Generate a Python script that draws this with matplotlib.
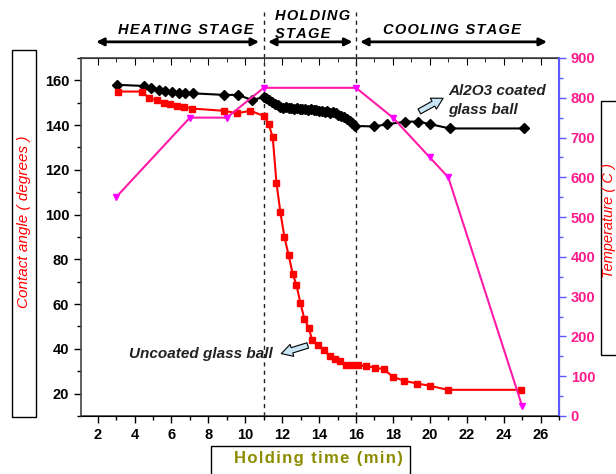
import matplotlib.pyplot as plt
from matplotlib.patches import Rectangle
from matplotlib.ticker import MultipleLocator

plt.rcParams['font.family'] = ['Liberation Sans', 'DejaVu Sans']

# Al2O3 coated glass ball - contact angle
t_coated = [3.05, 4.5, 4.9, 5.3, 5.67, 6.03, 6.4, 6.75, 7.17, 8.83, 9.6, 10.37,
            11.0, 11.15, 11.3, 11.45, 11.6, 11.75, 11.9, 12.05, 12.2, 12.35, 12.5,
            12.65, 12.8, 12.95, 13.1, 13.25, 13.4, 13.55, 13.7, 13.85, 14.0, 14.15,
            14.3, 14.45, 14.6, 14.75, 14.9, 15.05, 15.2, 15.35, 15.5, 15.65, 15.8,
            15.95, 17.0, 17.7, 18.68, 19.37, 20.03, 21.08, 25.1]
ca_coated = [158, 157.5, 156.6, 155.6, 155.2, 154.8, 154.5, 154.2, 154.2, 153.5, 153.5, 151.2,
             152.5, 152.0, 151.0, 150.2, 149.5, 149.0, 148.3, 147.8, 147.9, 147.5, 147.8,
             147.3, 147.6, 147.0, 147.2, 147.4, 146.8, 147.0, 146.6, 146.8, 146.3, 146.5,
             146.0, 146.2, 145.6, 145.8, 145.2, 144.6, 144.0, 143.4, 142.6, 141.8, 140.8,
             139.6, 139.4, 140.4, 141.5, 141.6, 140.4, 138.5, 138.5]

# uncoated glass ball - contact angle
t_uncoated = [3.1, 4.4, 4.8, 5.2, 5.58, 5.94, 6.3, 6.66, 7.1, 8.83, 9.55, 10.28, 11.0,
              11.27, 11.49, 11.69, 11.9, 12.12, 12.35, 12.57, 12.77, 12.99, 13.2, 13.44,
              13.62, 13.92, 14.25, 14.57, 14.88, 15.15, 15.48, 15.79, 16.09, 16.56, 17.05,
              17.5, 18.01, 18.62, 19.31, 20.0, 20.97, 24.95]
ca_uncoated = [155, 155, 152, 151.1, 150, 149.6, 148.6, 148.3, 147.4, 146.4, 145.3, 146.4, 144.1,
               140.4, 134.5, 114.2, 101.2, 90, 81.9, 73.5, 68.6, 60.4, 53.5, 49.3,
               44.1, 41.9, 39.7, 36.7, 35.6, 34.5, 33, 32.6, 32.6, 32.3, 31.6,
               30.9, 27.5, 25.7, 24.5, 23.5, 21.7, 21.7]

# temperature
t_temp = [3, 7, 9, 11, 16, 18, 20, 21, 25]
temp = [550, 750, 750, 825, 825, 750, 650, 600, 25]


def spaced(s):
    # hair space between letters to mimic the wide tracking of the original
    return '\u200a'.join(s)


fig = plt.figure(figsize=(6.16, 4.74), dpi=100)
ax = fig.add_axes([0.1315, 0.1224, 0.776, 0.7553])
ax2 = ax.twinx()

ax.plot(t_coated, ca_coated, color='black', marker='D', markersize=5, linewidth=1.5, zorder=3)
ax.plot(t_uncoated, ca_uncoated, color='red', marker='s', markersize=5, linewidth=1.5, zorder=3)
ax2.plot(t_temp, temp, color='#ff1aa8', marker='v', markersize=5, markerfacecolor='#ff00ff',
         markeredgecolor='#ff00ff', linewidth=1.5)

ax.set_xlim(1.1, 27)
ax.set_ylim(10, 170)
ax2.set_ylim(0, 900)

ax.xaxis.set_major_locator(MultipleLocator(2))
ax.xaxis.set_minor_locator(MultipleLocator(1))
ax.yaxis.set_major_locator(MultipleLocator(20))
ax.yaxis.set_minor_locator(MultipleLocator(10))
ax2.yaxis.set_major_locator(MultipleLocator(100))
ax2.yaxis.set_minor_locator(MultipleLocator(50))

ax.tick_params(which='major', length=5, width=1, labelsize=10.5)
ax.tick_params(which='minor', length=3, width=1)
for lab in ax.get_xticklabels() + ax.get_yticklabels():
    lab.set_fontweight('bold')

ax2.spines['right'].set_color('#5a5aff')
ax2.spines['right'].set_linewidth(1.5)
ax2.tick_params(axis='y', which='both', colors='#5a5aff', width=1)
ax2.tick_params(axis='y', which='major', length=5, labelcolor='#ff1a8c', labelsize=10.5)
ax2.tick_params(axis='y', which='minor', length=3)
for lab in ax2.get_yticklabels():
    lab.set_fontweight('bold')

for sp in ['left', 'bottom', 'top']:
    ax.spines[sp].set_color('#444444')
    ax.spines[sp].set_linewidth(1.2)
ax2.spines['left'].set_visible(False)
ax2.spines['top'].set_visible(False)

top = ax.secondary_xaxis('top')
top.xaxis.set_major_locator(MultipleLocator(2))
top.xaxis.set_minor_locator(MultipleLocator(1))
top.tick_params(which='both', direction='in', labeltop=False)
top.tick_params(which='major', length=5)
top.tick_params(which='minor', length=3)

# stage separators
for xv in [11, 16]:
    ax.plot([xv, xv], [0, 1.128], transform=ax.get_xaxis_transform(), color='#222222',
            linestyle=(0, (3, 3)), linewidth=1, clip_on=False)

# stage arrows and labels
stages = [(1.77, 10.9), (11.08, 15.96), (16.07, 26.5)]
for x0, x1 in stages:
    ax.annotate('', xy=(x0, 1.045), xytext=(x1, 1.045), xycoords=ax.get_xaxis_transform(),
                textcoords=ax.get_xaxis_transform(),
                arrowprops=dict(arrowstyle='<|-|>', color='black', lw=2, mutation_scale=11),
                annotation_clip=False)
stage_font = dict(fontsize=10.5, fontstyle='italic', fontweight='bold')
ax.text(6.8, 1.078, spaced('HEATING STAGE'), transform=ax.get_xaxis_transform(),
        ha='center', va='center', **stage_font)
ax.text(11.6, 1.093, spaced('HOLDING') + '\n' + spaced('STAGE'), transform=ax.get_xaxis_transform(),
        ha='left', va='center', linespacing=1.35, **stage_font)
ax.text(21.2, 1.078, spaced('COOLING STAGE'), transform=ax.get_xaxis_transform(),
        ha='center', va='center', **stage_font)

# series annotations
arrow_style = 'simple,head_length=0.8,head_width=0.9,tail_width=0.4'
ax.annotate('', xy=(20.85, 152.6), xytext=(19.3, 145.5),
            arrowprops=dict(arrowstyle=arrow_style, facecolor='#c8e6f5', edgecolor='black', lw=0.8))
ax.text(21.0, 150.8, 'Al2O3 coated\nglass ball', fontsize=11, fontstyle='italic',
        fontweight='bold', color='#222222', va='center', ha='left', linespacing=1.45)
ax.annotate('', xy=(11.81, 37.5), xytext=(13.53, 41.9),
            arrowprops=dict(arrowstyle=arrow_style, facecolor='#c8e6f5', edgecolor='black', lw=0.8))
ax.text(11.5, 37.5, 'Uncoated glass ball', fontsize=11, fontstyle='italic',
        fontweight='bold', color='#222222', va='center', ha='right')

# axis title boxes
W, H = 616, 474
fig.patches.append(Rectangle((12 / W, 1 - 417 / H), 24 / W, 367 / H, transform=fig.transFigure,
                             facecolor='white', edgecolor='black', lw=1))
fig.text(24 / W, 1 - 222 / H, 'Contact angle ( degrees )', rotation=90, ha='center', va='center',
         color='red', fontsize=11, fontstyle='italic')
fig.patches.append(Rectangle((600.5 / W, 1 - 355 / H), 30 / W, 254 / H, transform=fig.transFigure,
                             facecolor='white', edgecolor='black', lw=1))
fig.text(609.5 / W, 1 - 220 / H, 'Temperature ( C )', rotation=90, ha='center', va='center',
         color='red', fontsize=10.5, fontstyle='italic')
fig.patches.append(Rectangle((211 / W, 1 - 480 / H), 199 / W, 34 / H, transform=fig.transFigure,
                             facecolor='white', edgecolor='black', lw=1))
fig.text(318 / W, 1 - 459 / H, spaced('Holding time (min)'), ha='center', va='center',
         color='#8c8c00', fontsize=12, fontweight='bold')

fig.savefig('out.png', dpi=100)
